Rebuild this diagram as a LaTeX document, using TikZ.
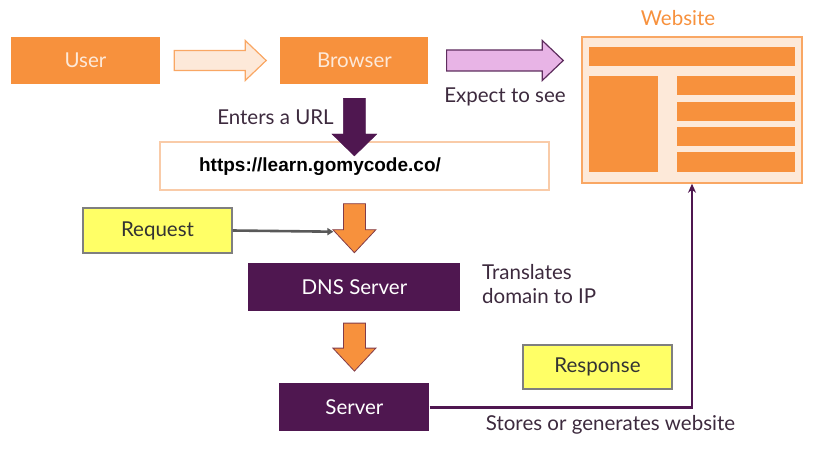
\documentclass[tikz,border=0pt]{standalone}
\usepackage{fontspec}
\setmainfont{Lato}
\newfontfamily\urlfont{Liberation Sans}
\usetikzlibrary{positioning,calc,arrows.meta}

\definecolor{boxorange}{HTML}{F7913D}
\definecolor{peach}{HTML}{FDE9D9}
\definecolor{peachline}{HTML}{F9CBA8}
\definecolor{plum}{HTML}{4F1750}
\definecolor{lilac}{HTML}{E8B4E6}
\definecolor{lilacline}{HTML}{5E2D5E}
\definecolor{notey}{HTML}{FFFF66}
\definecolor{noteline}{HTML}{7F7F7F}
\definecolor{labeltext}{HTML}{3D2A3E}

\tikzset{
  orangebox/.style={rectangle, fill=boxorange, inner sep=0pt, text=peach,
    minimum width=#1, minimum height=47pt, font=\fontsize{20.5}{24}\selectfont},
  plumbox/.style={rectangle, fill=plum, inner sep=0pt, text=white,
    minimum width=#1, minimum height=48pt, font=\fontsize{20.5}{24}\selectfont},
  notebox/.style={rectangle, fill=notey, draw=noteline, line width=1.2pt, inner sep=0pt,
    minimum width=149pt, minimum height=45pt, text=black!80, font=\fontsize{20.5}{24}\selectfont},
  caption/.style={inner sep=0pt, text=labeltext, font=\fontsize{20.5}{24}\selectfont},
  bar/.style={fill=boxorange, draw=none},
}

% fat arrow: [style] {start} {end} {shaft half width} {head half width} {head length}
\newcommand{\blockarrow}[6][]{%
  \coordinate (ba-base) at ($(#3)!#6!(#2)$);
  \draw[#1] ($(#2)!#4!90:(#3)$) -- ($(ba-base)!#4!90:(#3)$)
    -- ($(ba-base)!#5!90:(#3)$) -- (#3) -- ($(ba-base)!#5!-90:(#3)$)
    -- ($(ba-base)!#4!-90:(#3)$) -- ($(#2)!#4!-90:(#3)$) -- cycle;}

\begin{document}
\begin{tikzpicture}[x=1pt, y=-1pt]
  \useasboundingbox (0,0) rectangle (819,460);

  % Nodes
  \node[orangebox=149pt]                    (user)    at (85.5,60.5) {User};
  \node[orangebox=148pt, right=120pt of user] (browser) {Browser};
  \node[rectangle, fill=peach, draw=boxorange!80, line width=1.5pt,
        minimum width=220pt, minimum height=146pt, inner sep=0pt] (website) at (692,110) {};
  \node[caption, text=boxorange]            (weblabel) at (678,18) {Website};
  \node[rectangle, draw=peachline, line width=1.5pt, fill=white, inner sep=0pt,
        minimum width=389pt, minimum height=48pt, below=57pt of browser] (urlbox) {};
  \node[inner sep=0pt, font=\urlfont\bfseries\fontsize{19}{22}\selectfont]
                                            (url) at (320,167) {https://learn.gomycode.co/};
  \node[caption]                            (enters)  at (275.5,117) {Enters a URL};
  \node[caption]                            (expect)  at (505,97) {Expect to see};
  \node[plumbox=212pt, below=72pt of urlbox] (dns) {DNS Server};
  \node[plumbox=150pt, below=72pt of dns]   (server) {Server};
  \node[notebox]                            (request)  at (157.5,230.5) {Request};
  \node[notebox, minimum height=44pt]       (response) at (597.5,367) {Response};
  \node[caption, align=left, anchor=west]   (translates) at (482,284.5) {Translates\\domain to IP};
  \node[caption]                            (stores)  at (610.5,425) {Stores or generates website};

  % Website layout
  \draw[bar] (589,47) rectangle (795,66);
  \draw[bar] (589,76) rectangle (658,172);
  \foreach \top/\bot in {76/95, 102/121, 127/146, 152/172}
    \draw[bar] (677,\top) rectangle (795,\bot);

  % Edges
  \blockarrow[fill=peach, draw=boxorange!80, line width=1.2pt]
    {$(user.east)+(14,0)$}{$(browser.west)+(-14,0)$}{10pt}{20pt}{21pt}
  \blockarrow[fill=lilac, draw=lilacline, line width=1.2pt]
    {$(browser.east)+(18,0)$}{$(website.west |- browser.east)+(-18,0)$}{10.5pt}{20pt}{21pt}
  \blockarrow[fill=plum, draw=plum]
    {$(browser.south)+(0,14)$}{$(urlbox.center)+(0,-10)$}{11pt}{22.5pt}{22pt}
  \blockarrow[fill=boxorange, draw=plum!70!boxorange, line width=0.8pt]
    {$(urlbox.south)+(0,13)$}{$(dns.north)+(0,-10)$}{11pt}{21.5pt}{23pt}
  \blockarrow[fill=boxorange, draw=plum!70!boxorange, line width=0.8pt]
    {$(dns.south)+(0,12)$}{$(server.north)+(0,-12)$}{11pt}{21.5pt}{23pt}
  \draw[-{Triangle[length=6pt, width=7pt]}, line width=2.6pt, draw=black!65]
    (request.east) -- ($(dns.north)+(-21,-31)$);
  \draw[-{Stealth[length=9pt, width=8pt]}, line width=2.4pt, draw=plum]
    (server.east) -| (website.south);
\end{tikzpicture}
\end{document}
